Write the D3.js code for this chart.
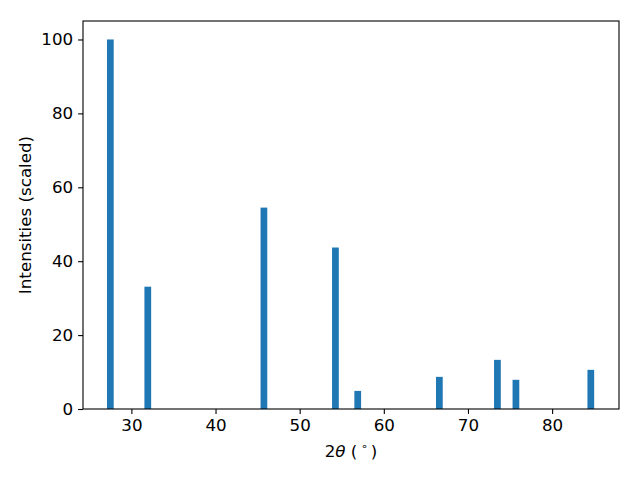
<!DOCTYPE html>
<html>
<head>
<meta charset="utf-8">
<script src="https://cdnjs.cloudflare.com/ajax/libs/d3/7.8.5/d3.min.js"></script>
<style>
  body { margin: 0; background: #fff; }
  svg { display: block; }
  .tick text { font-family: "DejaVu Sans", sans-serif; font-size: 16.7px; fill: #000; }
  .label { font-family: "DejaVu Sans", sans-serif; font-size: 16.7px; fill: #000; }
</style>
</head>
<body>
<div id="chart"></div>
<script>
// peak positions (2theta, degrees) and scaled intensities
var positions = [27.5, 31.95, 45.75, 54.25, 56.9, 66.6, 73.5, 75.7, 84.6];
var intensities = [100, 33.1, 54.5, 43.7, 4.9, 8.7, 13.3, 7.9, 10.6];
var xTicks = [30, 40, 50, 60, 70, 80];
var yTicks = [0, 20, 40, 60, 80, 100];
var barWidth = 0.8;

var width = 640, height = 480;
var margin = {top: 21, right: 21, bottom: 71, left: 83};
var innerW = width - margin.left - margin.right;
var innerH = height - margin.top - margin.bottom;

var svg = d3.select("#chart").append("svg")
  .attr("width", width)
  .attr("height", height);

var g = svg.append("g")
  .attr("transform", "translate(" + margin.left + "," + margin.top + ")");

var x = d3.scaleLinear().domain([24.25, 87.95]).range([0, innerW]);
var y = d3.scaleLinear().domain([0, 105]).range([innerH, 0]);

var data = positions.map(function (p, i) { return {x: p, v: intensities[i]}; });

g.selectAll("rect.bar")
  .data(data)
  .enter().append("rect")
    .attr("class", "bar")
    .attr("x", d => x(d.x - barWidth / 2))
    .attr("width", d => x(d.x + barWidth / 2) - x(d.x - barWidth / 2))
    .attr("y", d => y(d.v))
    .attr("height", d => y(0) - y(d.v))
    .attr("fill", "#1f77b4");

// axes
var xAxis = g.append("g")
  .attr("transform", "translate(0," + innerH + ")")
  .call(d3.axisBottom(x).tickValues(xTicks).tickSize(4.9).tickPadding(4.9).tickFormat(d3.format("d")));
var yAxis = g.append("g")
  .call(d3.axisLeft(y).tickValues(yTicks).tickSize(4.9).tickPadding(4.9).tickFormat(d3.format("d")));
[xAxis, yAxis].forEach(function (a) {
  a.select(".domain").remove();
  a.selectAll(".tick line").attr("stroke", "#000").attr("stroke-width", 1.1);
});

// frame
g.append("rect")
  .attr("width", innerW)
  .attr("height", innerH)
  .attr("fill", "none")
  .attr("stroke", "#000")
  .attr("stroke-width", 1.1);

// axis labels
var xl = svg.append("text")
  .attr("class", "label")
  .attr("x", margin.left + innerW / 2)
  .attr("y", 457)
  .attr("text-anchor", "middle");
xl.append("tspan").text("2");
xl.append("tspan").attr("font-style", "italic").text("\u03b8");
xl.append("tspan").text(" (\u2009");
xl.append("tspan").attr("font-size", "11px").attr("dy", -7).text("\u2218");
xl.append("tspan").attr("dy", 7).text("\u2009)");

svg.append("text")
  .attr("class", "label")
  .attr("transform", "translate(31," + (margin.top + innerH / 2) + ") rotate(-90)")
  .attr("text-anchor", "middle")
  .text("Intensities (scaled)");
</script>
</body>
</html>
